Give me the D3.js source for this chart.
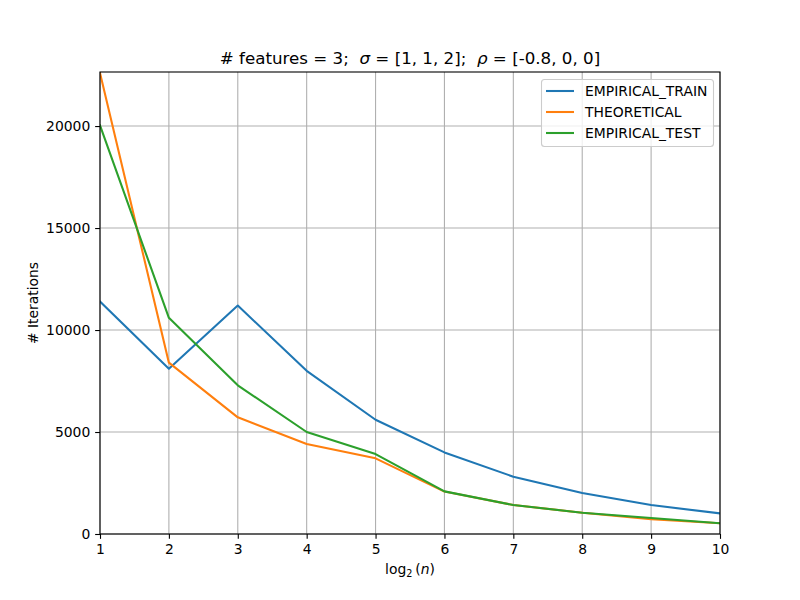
<!DOCTYPE html>
<html>
<head>
<meta charset="utf-8">
<script src="https://cdn.jsdelivr.net/npm/d3@7"></script>
<style>
body{margin:0;background:#fff;}
text{font-family:"DejaVu Sans",sans-serif;white-space:pre;}
</style>
</head>
<body>
<svg id="chart" width="800" height="600"></svg>
<script>
const xValues = [1,2,3,4,5,6,7,8,9,10];
const empiricalTrain = [11400, 8100, 11200, 8000, 5600, 4000, 2810, 2010, 1420, 1010];
const theoretical = [22600, 8400, 5720, 4410, 3710, 2080, 1420, 1045, 720, 525];
const empiricalTest = [20030, 10600, 7290, 5000, 3920, 2090, 1420, 1045, 785, 530];
const seriesNames = ["EMPIRICAL_TRAIN","THEORETICAL","EMPIRICAL_TEST"];
const seriesColors = ["#1f77b4","#ff7f0e","#2ca02c"];
const xTicks = [1,2,3,4,5,6,7,8,9,10];
const yTicks = [0,5000,10000,15000,20000];

const svg = d3.select("#chart");
const L=100,R=720,T=72,B=534;
const x = d3.scaleLinear().domain([1,10]).range([L,R]);
const y = d3.scaleLinear().domain([0,22650]).range([B,T]);

svg.append("rect").attr("width",800).attr("height",600).attr("fill","#fff");

// grid
const g = svg.append("g");
g.selectAll(".gx").data(xTicks).enter().append("line")
  .attr("x1",d=>x(d)).attr("x2",d=>x(d)).attr("y1",T).attr("y2",B)
  .attr("stroke","#b0b0b0").attr("stroke-width",1.1);
g.selectAll(".gy").data(yTicks).enter().append("line")
  .attr("x1",L).attr("x2",R).attr("y1",d=>y(d)).attr("y2",d=>y(d))
  .attr("stroke","#b0b0b0").attr("stroke-width",1.1);

svg.append("clipPath").attr("id","clip").append("rect")
  .attr("x",L).attr("y",T).attr("width",R-L).attr("height",B-T);

const series = [empiricalTrain, theoretical, empiricalTest];
const line = d3.line().x((d,i)=>x(xValues[i])).y(d=>y(d));
const lg = svg.append("g").attr("clip-path","url(#clip)");
series.forEach((s,i)=>{
  lg.append("path").datum(s).attr("d",line).attr("fill","none")
    .attr("stroke",seriesColors[i]).attr("stroke-width",2.08)
    .attr("stroke-linejoin","round").attr("stroke-linecap","square");
});

// axes
const xAxis = d3.axisBottom(x).tickValues(xTicks).tickSize(4.86).tickPadding(4.86).tickFormat(d3.format("d"));
const yAxis = d3.axisLeft(y).tickValues(yTicks).tickSize(4.86).tickPadding(4.86).tickFormat(d3.format("d"));
const gx = svg.append("g").attr("transform",`translate(0,${B})`).call(xAxis);
const gy = svg.append("g").attr("transform",`translate(${L},0)`).call(yAxis);
[gx,gy].forEach(a=>{
  a.select(".domain").remove();
  a.selectAll("line").attr("stroke","#000").attr("stroke-width",1.1);
  a.selectAll("text").attr("fill","#000").style("font-size","13.9px").style("font-family","DejaVu Sans");
});

// spines
svg.append("rect").attr("x",L).attr("y",T).attr("width",R-L).attr("height",B-T)
  .attr("fill","none").attr("stroke","#000").attr("stroke-width",1.1);

// title
const title = svg.append("text").attr("x",410).attr("y",64).attr("text-anchor","middle")
  .style("font-size","16.7px").attr("fill","#000");
title.append("tspan").text("# features = 3;  ");
title.append("tspan").style("font-style","italic").text("σ");
title.append("tspan").text(" = [1, 1, 2];  ");
title.append("tspan").style("font-style","italic").text("ρ");
title.append("tspan").text(" = [-0.8, 0, 0]");

// x label
const xl = svg.append("text").attr("x",410).attr("y",574).attr("text-anchor","middle")
  .style("font-size","13.9px").attr("fill","#000");
xl.append("tspan").text("log");
xl.append("tspan").attr("dy",2.5).style("font-size","9.7px").text("2");
xl.append("tspan").attr("dy",-2.5).text("\u2009(");
xl.append("tspan").style("font-style","italic").text("n");
xl.append("tspan").text(")");

// y label
svg.append("text").attr("transform","translate(38,303) rotate(-90)").attr("text-anchor","middle")
  .style("font-size","13.9px").attr("fill","#000").text("# Iterations");

// legend
const leg = svg.append("g");
leg.append("rect").attr("x",541.5).attr("y",79.5).attr("width",172).attr("height",67)
  .attr("rx",3).attr("fill","#fff").attr("fill-opacity",0.8).attr("stroke","#cccccc").attr("stroke-width",1.1);
seriesNames.forEach((n,i)=>{
  const yy = 91 + i*21;
  leg.append("line").attr("x1",546).attr("x2",574).attr("y1",yy).attr("y2",yy)
    .attr("stroke",seriesColors[i]).attr("stroke-width",2.08);
  leg.append("text").attr("x",585).attr("y",yy+5).style("font-size","13.9px").attr("fill","#000").text(n);
});
</script>
</body>
</html>
